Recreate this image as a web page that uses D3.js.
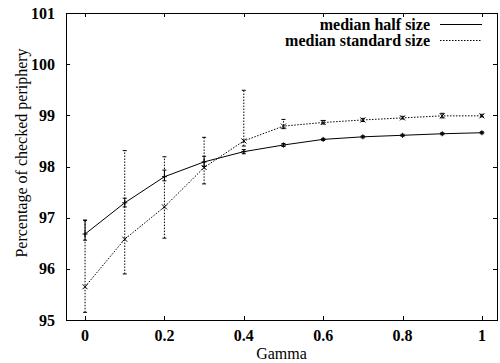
<!DOCTYPE html>
<html>
<head>
<meta charset="utf-8">
<script src="https://cdn.jsdelivr.net/npm/d3@7"></script>
<style>
  body { margin: 0; background: #fff; }
</style>
</head>
<body>
<div id="chart"></div>
<script>
// gamma values on the x axis
const gammas = [0, 0.1, 0.2, 0.3, 0.4, 0.5, 0.6, 0.7, 0.8, 0.9, 1];

// median half size: value, low, high
const halfVals = [96.68, 97.29, 97.80, 98.09, 98.29, 98.42, 98.53, 98.58, 98.61, 98.64, 98.66];
const halfLow  = [96.56, 97.21, 97.72, 98.00, 98.25, 98.39, 98.51, 98.56, 98.59, 98.62, 98.64];
const halfHigh = [96.95, 97.38, 97.93, 98.20, 98.33, 98.45, 98.55, 98.60, 98.63, 98.66, 98.68];

// median standard size: value, low, high
const stdVals = [95.65, 96.58, 97.21, 97.98, 98.50, 98.79, 98.86, 98.91, 98.95, 98.99, 98.99];
const stdLow  = [95.15, 95.90, 96.60, 97.66, 98.40, 98.74, 98.83, 98.88, 98.93, 98.95, 98.97];
const stdHigh = [96.95, 98.31, 98.19, 98.57, 99.49, 98.92, 98.90, 98.94, 98.98, 99.04, 99.02];

const xTicks = [0, 0.2, 0.4, 0.6, 0.8, 1];
const yTicks = [95, 96, 97, 98, 99, 100, 101];

const width = 500, height = 363;
const margin = { left: 66, right: 3, top: 13, bottom: 43 };
const serif = '"Liberation Serif", "DejaVu Serif", "Times New Roman", serif';

const svg = d3.select('#chart').append('svg')
  .attr('width', width)
  .attr('height', height)
  .attr('font-family', serif);

const x = d3.scaleLinear().domain([-0.048, 1.038]).range([margin.left, width - margin.right]);
const y = d3.scaleLinear().domain([95, 101]).range([height - margin.bottom, margin.top]);

const x0 = x.range()[0], x1 = x.range()[1];
const y0 = y.range()[0], y1 = y.range()[1];

// ticks (inward, mirrored)
const tickLen = 4;
const g = svg.append('g').attr('stroke', '#000').attr('stroke-width', 1);
xTicks.forEach(t => {
  const px = Math.round(x(t)) + 0.5;
  g.append('line').attr('x1', px).attr('x2', px).attr('y1', y0).attr('y2', y0 - tickLen);
  g.append('line').attr('x1', px).attr('x2', px).attr('y1', y1).attr('y2', y1 + tickLen);
});
yTicks.forEach(t => {
  const py = Math.round(y(t)) + 0.5;
  g.append('line').attr('x1', x0).attr('x2', x0 + tickLen).attr('y1', py).attr('y2', py);
  g.append('line').attr('x1', x1).attr('x2', x1 - tickLen).attr('y1', py).attr('y2', py);
});

// frame
svg.append('rect')
  .attr('x', Math.round(x0) + 0.5).attr('y', Math.round(y1) + 0.5)
  .attr('width', Math.round(x1) - Math.round(x0)).attr('height', Math.round(y0) - Math.round(y1))
  .attr('fill', 'none').attr('stroke', '#000');

// tick labels
svg.append('g').selectAll('text').data(xTicks).enter().append('text')
  .attr('x', d => x(d)).attr('y', y0 + 21)
  .attr('text-anchor', 'middle')
  .attr('font-family', serif)
  .style('font-size', '16px').style('font-weight', 'bold')
  .text(d => d);

svg.append('g').selectAll('text').data(yTicks).enter().append('text')
  .attr('x', x0 - 11).attr('y', d => y(d) + 5.5)
  .attr('text-anchor', 'end')
  .attr('font-family', serif)
  .style('font-size', '16px').style('font-weight', 'bold')
  .text(d => d);

// axis titles
svg.append('text')
  .attr('x', (x0 + x1) / 2).attr('y', 359)
  .attr('text-anchor', 'middle')
  .attr('font-family', serif)
  .style('font-size', '16px')
  .text('Gamma');

svg.append('text')
  .attr('transform', 'translate(27,153) rotate(-90)')
  .attr('text-anchor', 'middle')
  .attr('font-family', serif)
  .style('font-size', '16px')
  .text('Percentage of checked periphery');

function drawSeries(vals, lows, highs, dash, marker) {
  const pts = gammas.map((gm, i) => ({ gm, v: vals[i], lo: lows[i], hi: highs[i] }));
  const s = svg.append('g').attr('stroke', '#000').attr('stroke-width', 1).attr('fill', 'none');

  // error bars
  pts.forEach(d => {
    const px = x(d.gm);
    s.append('line').attr('x1', px).attr('x2', px).attr('y1', y(d.lo)).attr('y2', y(d.hi))
      .attr('stroke-dasharray', dash);
    [d.lo, d.hi].forEach(e => {
      s.append('line').attr('x1', px - 2).attr('x2', px + 2).attr('y1', y(e)).attr('y2', y(e));
    });
  });

  // line
  s.append('path')
    .attr('d', d3.line().x(d => x(d.gm)).y(d => y(d.v))(pts))
    .attr('stroke-dasharray', dash);

  // markers
  pts.forEach(d => {
    const px = x(d.gm), py = y(d.v), r = 2.5;
    if (marker === 'plus') {
      s.append('line').attr('x1', px - r).attr('x2', px + r).attr('y1', py).attr('y2', py);
      s.append('line').attr('x1', px).attr('x2', px).attr('y1', py - r).attr('y2', py + r);
    } else {
      s.append('line').attr('x1', px - r).attr('x2', px + r).attr('y1', py - r).attr('y2', py + r);
      s.append('line').attr('x1', px - r).attr('x2', px + r).attr('y1', py + r).attr('y2', py - r);
    }
  });
}

drawSeries(halfVals, halfLow, halfHigh, null, 'plus');
drawSeries(stdVals, stdLow, stdHigh, '1.5,1.5', 'cross');

// legend
const legend = [
  { label: 'median half size', dash: null, y: 24 },
  { label: 'median standard size', dash: '1.5,1.5', y: 40 }
];
legend.forEach(l => {
  svg.append('text')
    .attr('x', 430).attr('y', l.y + 5.5)
    .attr('text-anchor', 'end')
    .attr('font-family', serif)
    .style('font-size', '16px').style('font-weight', 'bold')
    .text(l.label);
  svg.append('line')
    .attr('x1', 440).attr('x2', 482).attr('y1', l.y + 0.5).attr('y2', l.y + 0.5)
    .attr('stroke', '#000').attr('stroke-dasharray', l.dash);
});
</script>
</body>
</html>
